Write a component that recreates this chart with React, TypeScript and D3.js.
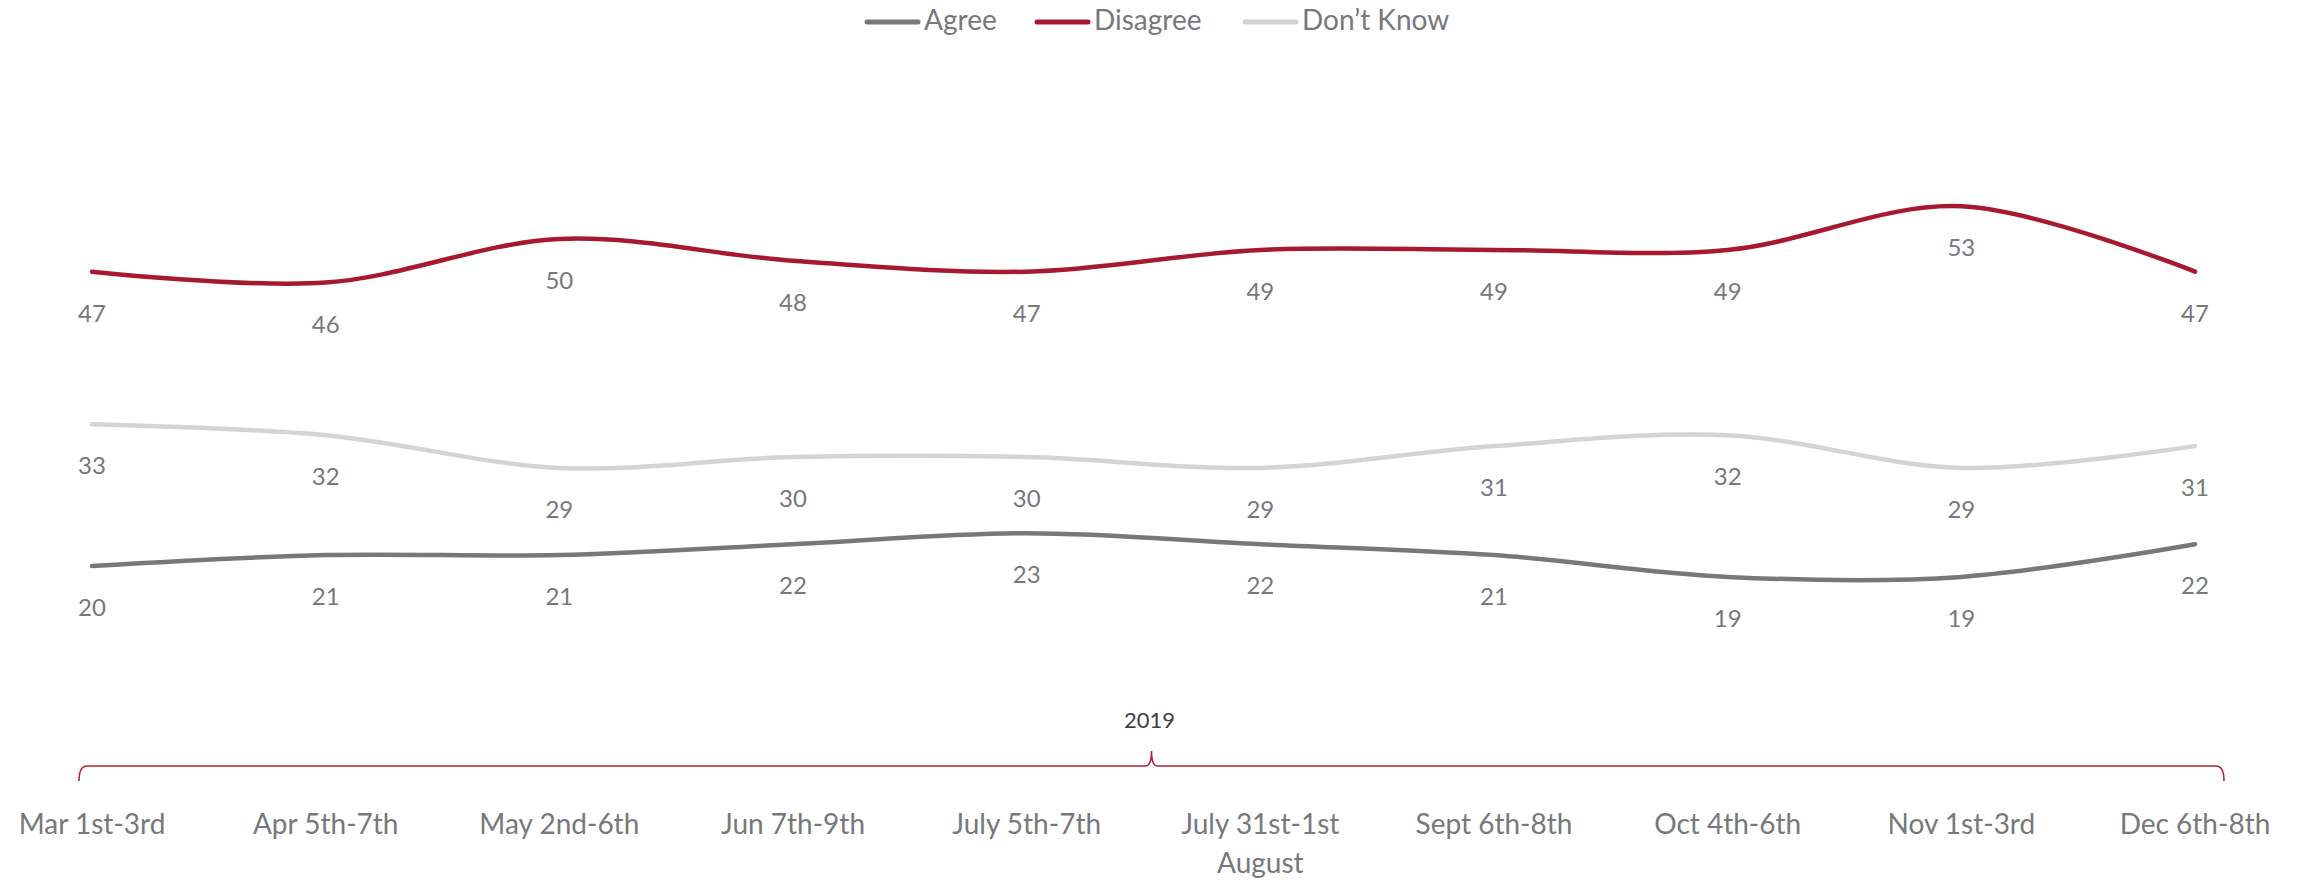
import React from "react";
import * as d3 from "d3";

const categories: string[][] = [
  ["Mar 1st-3rd"],
  ["Apr 5th-7th"],
  ["May 2nd-6th"],
  ["Jun 7th-9th"],
  ["July 5th-7th"],
  ["July 31st-1st", "August"],
  ["Sept 6th-8th"],
  ["Oct 4th-6th"],
  ["Nov 1st-3rd"],
  ["Dec 6th-8th"],
];
const agree = [20, 21, 21, 22, 23, 22, 21, 19, 19, 22];
const disagree = [47, 46, 50, 48, 47, 49, 49, 49, 53, 47];
const dontKnow = [33, 32, 29, 30, 30, 29, 31, 32, 29, 31];
const seriesNames = ["Agree", "Disagree", "Don\u2019t Know"];
const yearLabel = "2019";

const colors = ["#77787b", "#a6192e", "#d4d4d4"];
const labelColor = "#77787b";
const W = 2303;
const H = 880;
const FONT = "Lato, 'Open Sans', sans-serif";

export default function App() {
  const keys = categories.map((c) => c.join(" "));
  const x = d3.scalePoint<string>().domain(keys).range([92, 2195]);
  const y = d3.scaleLinear().domain([0, 60]).range([784, 784 - 654]);
  const series = [agree, disagree, dontKnow];
  const line = d3
    .line<number>()
    .x((_, i) => x(keys[i]) as number)
    .y((d) => y(d))
    .curve(d3.curveCatmullRom.alpha(0.5));

  const legendX = [865, 1035, 1243];
  const bl = 79;
  const br = 2224;
  const bm = (bl + br) / 2;
  const by = 766;
  const bracket = `M${bl},${by + 15} Q${bl},${by} ${bl + 8},${by} L${bm - 6},${by} Q${bm},${by} ${bm},${by - 15} Q${bm},${by} ${bm + 6},${by} L${br - 8},${by} Q${br},${by} ${br},${by + 15}`;

  return (
    <svg
      width={W}
      height={H}
      style={{ position: "absolute", left: 0, top: 0, background: "#fff" }}
      fontFamily={FONT}
    >
      {/* legend */}
      {seriesNames.map((n, i) => (
        <g key={n}>
          <line
            x1={legendX[i] + 2}
            x2={legendX[i] + 53}
            y1={22}
            y2={22}
            stroke={colors[i]}
            strokeWidth={5}
            strokeLinecap="round"
          />
          <text x={legendX[i] + 59} y={30} fontSize={28} fill={labelColor}>
            {n}
          </text>
        </g>
      ))}

      {/* lines */}
      {series.map((s, si) => (
        <path
          key={si}
          d={line(s) as string}
          fill="none"
          stroke={colors[si]}
          strokeWidth={4.5}
          strokeLinecap="round"
        />
      ))}

      {/* data labels */}
      {series.map((s, si) =>
        s.map((v, i) => (
          <text
            key={`${si}-${i}`}
            x={x(keys[i]) as number}
            y={y(v) + 50}
            textAnchor="middle"
            fontSize={24}
            fill={labelColor}
          >
            {v}
          </text>
        ))
      )}

      {/* year bracket */}
      <text x={bm - 2} y={728} textAnchor="middle" fontSize={22} fill="#404040">
        {yearLabel}
      </text>
      <path d={bracket} fill="none" stroke="#b3243a" strokeWidth={1.6} />

      {/* category labels */}
      {categories.map((c, i) => (
        <text
          key={keys[i]}
          x={x(keys[i]) as number}
          y={834}
          textAnchor="middle"
          fontSize={28}
          fill={labelColor}
        >
          {c.map((ln, j) => (
            <tspan key={j} x={x(keys[i]) as number} dy={j === 0 ? 0 : 39}>
              {ln}
            </tspan>
          ))}
        </text>
      ))}
    </svg>
  );
}
